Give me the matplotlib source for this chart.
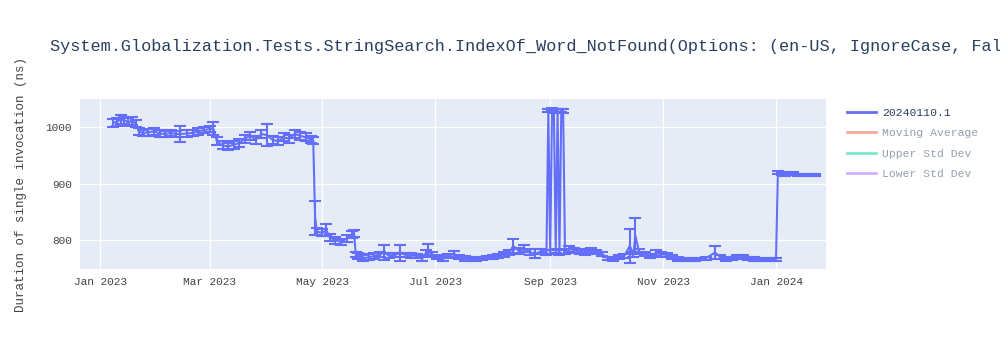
import pandas as pd
import matplotlib
matplotlib.use("Agg")
import matplotlib.pyplot as plt
import matplotlib.dates as mdates
from matplotlib.lines import Line2D

plt.rcParams['font.family'] = ['Liberation Mono', 'DejaVu Sans Mono']

# data, grouped by month
dates = [
    "2023-01-08", "2023-01-10", "2023-01-12", "2023-01-14", "2023-01-16", "2023-01-18", "2023-01-20", "2023-01-22", "2023-01-24", "2023-01-27", "2023-01-30",
    "2023-02-02", "2023-02-05", "2023-02-08", "2023-02-11", "2023-02-13", "2023-02-17", "2023-02-20", "2023-02-23", "2023-02-26",
    "2023-03-01", "2023-03-03", "2023-03-05", "2023-03-08", "2023-03-11", "2023-03-14", "2023-03-17", "2023-03-20", "2023-03-23", "2023-03-26", "2023-03-29",
    "2023-04-01", "2023-04-04", "2023-04-07", "2023-04-10", "2023-04-13", "2023-04-16", "2023-04-19", "2023-04-22", "2023-04-25", "2023-04-26", "2023-04-27", "2023-04-28",
    "2023-05-01", "2023-05-03", "2023-05-05", "2023-05-08", "2023-05-11", "2023-05-14", "2023-05-17", "2023-05-18", "2023-05-19", "2023-05-20", "2023-05-23", "2023-05-26", "2023-05-29",
    "2023-06-01", "2023-06-03", "2023-06-06", "2023-06-09", "2023-06-12", "2023-06-15", "2023-06-18", "2023-06-21", "2023-06-24", "2023-06-26", "2023-06-27", "2023-06-29",
    "2023-07-02", "2023-07-05", "2023-07-08", "2023-07-11", "2023-07-14", "2023-07-17", "2023-07-20", "2023-07-23", "2023-07-26", "2023-07-29",
    "2023-08-01", "2023-08-04", "2023-08-07", "2023-08-10", "2023-08-12", "2023-08-15", "2023-08-18", "2023-08-21", "2023-08-24", "2023-08-27", "2023-08-30", "2023-08-31",
    "2023-09-01", "2023-09-02", "2023-09-03", "2023-09-04", "2023-09-05", "2023-09-06", "2023-09-07", "2023-09-08", "2023-09-09", "2023-09-11", "2023-09-14", "2023-09-17", "2023-09-20", "2023-09-23", "2023-09-26", "2023-09-29",
    "2023-10-02", "2023-10-05", "2023-10-08", "2023-10-11", "2023-10-14", "2023-10-16", "2023-10-17", "2023-10-19", "2023-10-22", "2023-10-25", "2023-10-28", "2023-10-31",
    "2023-11-03", "2023-11-06", "2023-11-09", "2023-11-12", "2023-11-15", "2023-11-18", "2023-11-21", "2023-11-24", "2023-11-29",
    "2023-12-02", "2023-12-05", "2023-12-08", "2023-12-11", "2023-12-14", "2023-12-17", "2023-12-20", "2023-12-23", "2023-12-26", "2023-12-29",
    "2024-01-01", "2024-01-02", "2024-01-04", "2024-01-06", "2024-01-08", "2024-01-10", "2024-01-13", "2024-01-16", "2024-01-19", "2024-01-22",
]
durations = [
    1008, 1010, 1014, 1012, 1009, 1011, 1007, 992, 990, 991, 993,
    989, 988, 990, 988, 988, 989, 990, 993, 995,
    997, 998, 975, 968, 966, 969, 972, 980, 985, 978, 988,
    986, 978, 975, 982, 980, 988, 985, 982, 978, 976, 840, 815,
    813, 818, 805, 800, 797, 803, 810, 812, 775, 772, 768, 770, 772,
    775, 778, 773, 774, 777, 774, 773, 772, 768, 778, 782, 775,
    770, 768, 772, 776, 770, 768, 766, 767, 768, 769,
    770, 772, 775, 778, 790, 781, 785, 779, 776, 780, 778, 1030,
    779, 1031, 1029, 781, 1030, 778, 1030, 1029, 780, 785, 782, 780, 778, 782, 779, 776,
    768, 767, 770, 772, 790, 775, 808, 780, 776, 772, 777, 775,
    774, 770, 767, 766, 766, 766, 767, 768, 778,
    770, 767, 768, 770, 770, 768, 767, 766, 766, 766,
    766, 920, 918, 917, 917, 918, 916, 916, 915, 915,
]
errors = [
    7, 7, 8, 7, 7, 7, 6, 6, 6, 6, 6,
    6, 6, 6, 6, 14, 6, 6, 6, 6,
    6, 12, 7, 7, 7, 7, 7, 7, 7, 7, 7,
    20, 7, 7, 7, 7, 7, 7, 7, 6, 6, 30, 6,
    6, 10, 6, 6, 6, 6, 6, 6, 5, 5, 5, 5, 5,
    4, 13, 4, 4, 14, 4, 4, 4, 4, 5, 11, 4,
    4, 4, 4, 5, 4, 4, 3, 3, 3, 3,
    3, 4, 4, 5, 13, 5, 6, 5, 8, 5, 4, 3,
    4, 3, 3, 4, 3, 4, 3, 3, 4, 5, 4, 4, 4, 5, 4, 4,
    3, 3, 4, 4, 30, 4, 32, 5, 4, 4, 5, 4,
    4, 3, 3, 2, 2, 2, 2, 3, 12,
    3, 3, 3, 4, 4, 3, 3, 2, 2, 2,
    2, 3, 3, 3, 2, 2, 2, 2, 2, 2,
]

title = "System.Globalization.Tests.StringSearch.IndexOf_Word_NotFound(Options: (en-US, IgnoreCase, False))"
legend_names = ["20240110.1", "Moving Average", "Upper Std Dev", "Lower Std Dev"]
legend_colors = ["#636efa", "#EF553B", "#00cc96", "#ab63fa"]

df = pd.DataFrame({'date': pd.to_datetime(dates), 'value': durations, 'err': errors})

fig = plt.figure(figsize=(10, 3.5), dpi=100)
ax = fig.add_axes([0.08, 0.2314, 0.746, 0.4857])
ax.set_facecolor('#E5ECF6')

ax.errorbar(df['date'], df['value'], yerr=df['err'], color='#636efa', lw=1.5,
            elinewidth=1.5, capsize=4, capthick=1.5, zorder=3)

ax.set_xlim(pd.Timestamp('2022-12-21'), pd.Timestamp('2024-01-28'))
ax.set_ylim(749, 1050)
ax.set_yticks([800, 900, 1000])
ax.xaxis.set_major_locator(mdates.MonthLocator(bymonth=[1, 3, 5, 7, 9, 11]))
ax.xaxis.set_major_formatter(mdates.DateFormatter('%b %Y'))

ax.grid(True, color='white', lw=1)
ax.set_axisbelow(True)
for s in ax.spines.values():
    s.set_visible(False)
ax.tick_params(length=0, labelsize=8, colors='#444444', pad=6)

ax.set_ylabel('Duration of single invocation (ns)', fontsize=9, color='#444444', labelpad=13)
# the title runs past the right edge, as in the original
fig.text(0.05, 0.868, title, fontsize=12.2, color='#2a3f5f', va='center', ha='left')

# legend: only the first trace is visible, the others are greyed out
handles = []
for i, (n, c) in enumerate(zip(legend_names, legend_colors)):
    handles.append(Line2D([], [], color=c, lw=2, alpha=1.0 if i == 0 else 0.5))
leg = fig.legend(handles, legend_names, loc='upper left', bbox_to_anchor=(0.842, 0.705),
                 frameon=False, fontsize=8.2, handlelength=2.6, handletextpad=0.5,
                 labelspacing=0.92, borderaxespad=0)
for i, t in enumerate(leg.get_texts()):
    t.set_color('#2a3f5f')
    if i > 0:
        t.set_alpha(0.5)

fig.savefig('out.png', dpi=100)
